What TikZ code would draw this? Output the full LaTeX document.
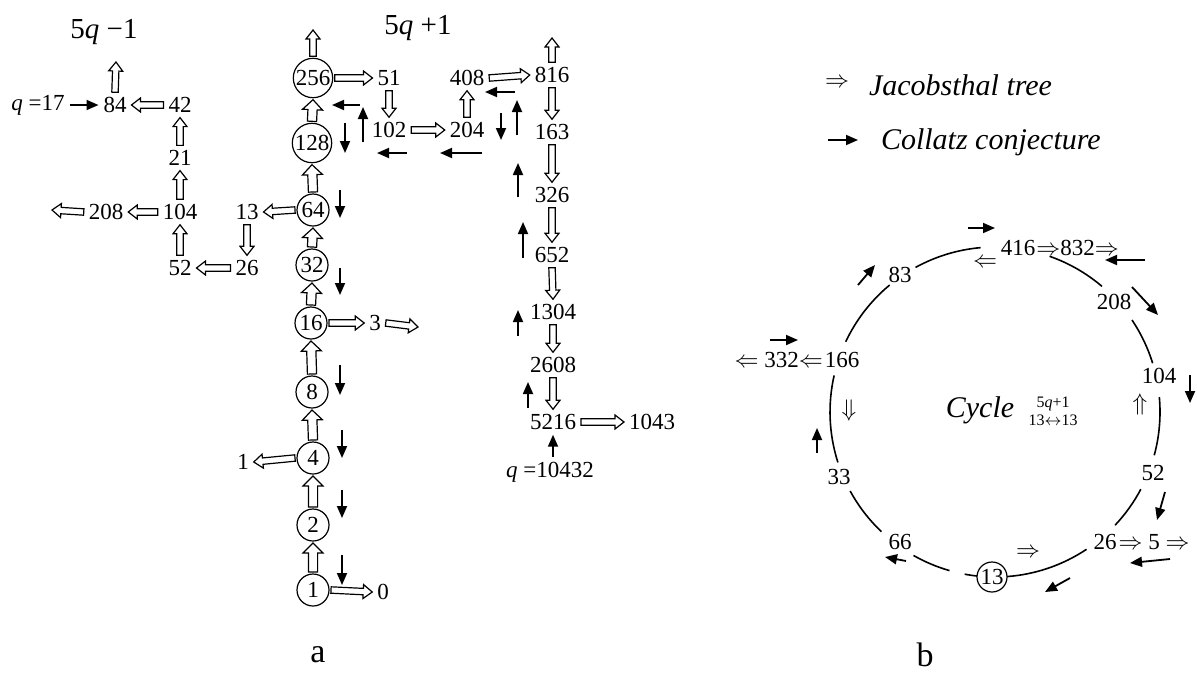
\documentclass[tikz,border=0pt]{standalone}
\usepackage{fontspec}
\setmainfont{Liberation Serif}
\usetikzlibrary{arrows.meta,calc}

\tikzset{
  every node/.style={font=\fontsize{11.5}{13}\selectfont, inner sep=1pt, outer sep=1.5pt},
  circ/.style={circle, draw, line width=0.6pt, minimum size=16pt, inner sep=0.3pt, outer sep=1pt},
  collatz/.style={-{Triangle[length=6pt,width=5pt]}, line width=0.9pt},
  ring/.style={line width=0.8pt},
  shaftw/.store in=\shaftw, headw/.store in=\headw, headl/.store in=\headl,
  shaftw=1.6pt, headw=3.5pt, headl=4.5pt,
  hollow/.style={draw, fill=white, line width=0.6pt, to path={
      let \p1=($(\tikztotarget)!\headl!(\tikztostart)$) in
      ($(\tikztostart)!\shaftw!90:(\tikztotarget)$)
      -- ($(\p1)!\shaftw!90:(\tikztotarget)$)
      -- ($(\p1)!\headw!90:(\tikztotarget)$)
      -- (\tikztotarget)
      -- ($(\p1)!\headw!-90:(\tikztotarget)$)
      -- ($(\p1)!\shaftw!-90:(\tikztotarget)$)
      -- ($(\tikztostart)!\shaftw!-90:(\tikztotarget)$) -- cycle}},
  bighollow/.style={hollow, shaftw=2.3pt, headw=5pt, headl=5pt},
  big/.style={font=\fontsize{17}{19}\selectfont},
  ital/.style={font=\fontsize{15}{17}\selectfont\itshape},
  toplab/.style={font=\fontsize{14.5}{16}\selectfont},
}

\begin{document}
\begin{tikzpicture}[x=0.5pt,y=-0.5pt]
  \useasboundingbox (0,0) rectangle (1197,675);

  % part a
  \node[toplab] (lab5m) at (104,32) {5\textit{q} −1};
  \node[toplab] (lab5p) at (418,28) {5\textit{q} +1};

  \node (q1) at (38,105) {\textit{q} =17};
  \node (n84) at (115,105) {84};
  \node (n42) at (180,105) {42};
  \node (n21) at (180,158) {21};
  \node (n104) at (180,212) {104};
  \node (n208) at (106,212) {208};
  \node (n52) at (180,268) {52};
  \node (n26) at (247,268) {26};
  \node (n13) at (247,212) {13};
  \coordinate (t84) at (116,62);
  \coordinate (t208) at (52,210);

  \node[circ] (n256) at (313,78) {256};
  \node[circ] (n128) at (312,143) {128};
  \node[circ] (n64) at (313,210) {64};
  \node[circ] (n32) at (312,265) {32};
  \node[circ] (n16) at (311,323) {16};
  \node[circ] (n8) at (312,392) {8};
  \node[circ] (n4) at (313,458) {4};
  \node[circ] (n2) at (313,525) {2};
  \node[circ] (n1) at (313,590) {1};
  \node (n0) at (383,592) {0};
  \node (n1l) at (243,462) {1};
  \node (n3) at (375,323) {3};
  \coordinate (t256) at (313,30);
  \coordinate (t3) at (418,327);

  \node (n51) at (389,78) {51};
  \node (n102) at (389,130) {102};
  \node (n204) at (467,130) {204};
  \node (n408) at (467,78) {408};
  \node (n816) at (552,75) {816};
  \node (n163) at (552,132) {163};
  \node (n326) at (552,195) {326};
  \node (n652) at (552,255) {652};
  \node (n1304) at (553,312) {1304};
  \node (n2608) at (553,365) {2608};
  \node (n5216) at (553,422) {5216};
  \node (n1043) at (652,422) {1043};
  \node (q2) at (550,472) {\textit{q} =10432};
  \coordinate (t816) at (552,38);

  \foreach \fr/\tg in {n84.north/t84, n42.west/n84.east, n21.north/n42.south,
      n104.north/n21.south, n104.west/n208.east, n208.west/t208, n52.north/n104.south,
      n26.west/n52.east, n13.south/n26.north, n64.west/n13.east, n256.north/t256,
      n256.east/n51.west, n51.south/n102.north, n102.east/n204.west, n204.north/n408.south,
      n408.east/n816.west, n816.north/t816, n816.south/n163.north, n163.south/n326.north,
      n326.south/n652.north, n652.south/n1304.north, n1304.south/n2608.north,
      n2608.south/n5216.north, n5216.east/n1043.west, n16.east/n3.west, n3.east/t3,
      n4.west/n1l.east, n1.east/n0.west}
    \path[hollow] (\fr) to (\tg);
  \foreach \fr/\tg in {n128.north/n256.south, n64.north/n128.south, n32.north/n64.south,
      n16.north/n32.south, n8.north/n16.south, n4.north/n8.south, n2.north/n4.south,
      n1.north/n2.south}
    \path[bighollow] (\fr) to (\tg);

  \draw[collatz] (q1) -- (n84);
  \draw[collatz] (q2.north -| n5216) -- (n5216.south);

  \node[big] (labA) at (318,655) {a};

  % part b
  \coordinate (cc) at (995,412);
  \foreach \a/\b in {-70.7/-49.6, -33.9/-17.2, -5.2/15.2, 27.9/43.3, 56.3/85.8,
      96.3/100.6, 106/119.6, 133.5/151.4, 162.2/192.8, 205.2/230.3, 241.2/265}
    \draw[ring] (cc) ++(\a:165) arc[start angle=\a, end angle=\b, radius=165];

  \node (c416) at (1018,248) {416};
  \node[anchor=west, inner sep=0pt, outer sep=0pt] (c832) at ([xshift=-2pt]c416.east) {$\Rightarrow$832$\Rightarrow$};
  \node (c208) at (1114,302) {208};
  \node (c104) at (1159,376) {104};
  \node (c52) at (1153,473) {52};
  \node (c26) at (1105,542) {26};
  \node[anchor=west, inner sep=0pt, outer sep=0pt] (c5) at ([xshift=-1.5pt]c26.east) {$\Rightarrow$ 5 $\Rightarrow$};
  \node[circ, minimum size=15pt] (c13) at (992,577) {13};
  \node (c66) at (900,542) {66};
  \node (c33) at (839,477) {33};
  \node (c166) at (842,360) {166};
  \node[anchor=east, inner sep=0pt, outer sep=0pt] (c332) at ([xshift=1.5pt]c166.west) {$\Leftarrow$ 332$\Leftarrow$};
  \node (c83) at (900,275) {83};

  \node (u1) at (985,263) {$\Leftarrow$};
  \node (u2) at (1140,404) {$\Uparrow$};
  \node (u3) at (1028,553) {$\Rightarrow$};
  \node (u4) at (849,410) {$\Downarrow$};

  \node[ital] (cycle) at (980,410) {Cycle};
  \node[font=\fontsize{8}{9}\selectfont, align=center] (cyclab) at (1053,411) {5\textit{q}+1\\13$\leftrightarrow$13};

  \node[big] (labB) at (925,655) {b};

  % legend
  \node[font=\fontsize{12.5}{14}\selectfont] (legJ) at (837,83) {$\Rightarrow$};
  \node[ital, anchor=west] (legJt) at (864,85) {Jacobsthal tree};
  \node[ital, anchor=west] (legCt) at (876,142) {Collatz conjecture};

  % Collatz arrows
  \foreach \xa/\ya/\xb/\yb in {360/105/332/105, 363/142/363/107, 345/123/345/153,
      407/153/377/153, 482/153/440/153, 515/92/485/92, 501/113/501/140,
      517/135/517/100, 518/197/518/163, 523/258/523/222, 518/336/518/310,
      528/408/528/382, 340/190/340/218, 340/268/340/295, 340/365/340/395,
      342/430/342/458, 342/490/342/518, 342/555/342/585,
      968/228/995/228, 858/285/875/265, 1145/260/1105/260, 1132/287/1158/315,
      1190/375/1190/403, 1165/492/1157/520, 1170/559/1130/563, 1070/578/1045/592,
      906/561/885/557, 817/453/817/428, 770/340/798/340, 828/140/858/140}
    \draw[collatz] (\xa,\ya) -- (\xb,\yb);
\end{tikzpicture}
\end{document}
